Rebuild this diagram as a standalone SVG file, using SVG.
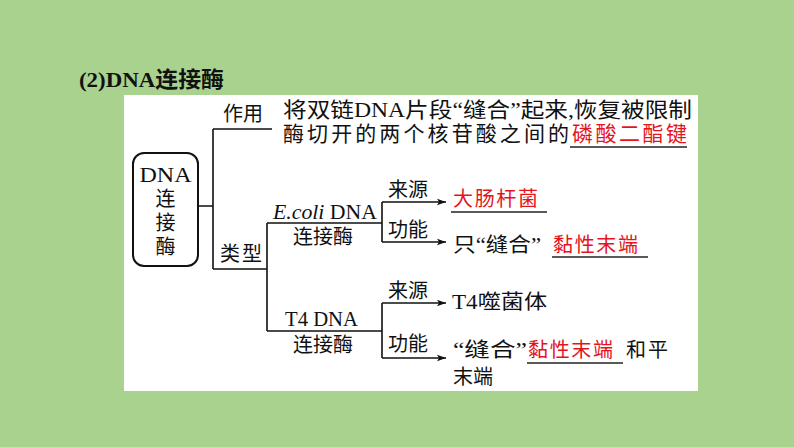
<svg xmlns="http://www.w3.org/2000/svg" width="794" height="447" viewBox="0 0 794 447">
<style>
text{font-family:"Liberation Serif","Noto Sans CJK SC",serif;font-size:20px;fill:#111}
.red{fill:#e3141c}
.ln{stroke:#111;stroke-width:1.6;fill:none}
.ul{stroke:#222;stroke-width:1.6}
.title{font-size:22px;font-weight:bold}
.desc{font-size:21px}
</style>
<defs>
<marker id="arr" markerWidth="10" markerHeight="8" refX="9" refY="4" orient="auto" markerUnits="userSpaceOnUse">
<path d="M0,0.8 L9,4 L0,7.2 L2,4 Z" fill="#111"/>
</marker>
</defs>
<rect width="794" height="447" fill="#a9d28f"/>
<g id="title"><text class="title" x="79" y="87" textLength="145" lengthAdjust="spacingAndGlyphs">(2)DNA连接酶</text></g>
<rect id="panel" x="124" y="95" width="574" height="296" fill="#fff"/>
<g id="connectors">
<path class="ln" d="M198 206H213M213 129V269M213 129H272M213 269H267M267 223V331M267 223H382M267 331H382M382 202V242M382 303V358"/>
<path class="ln" d="M382 202H446" marker-end="url(#arr)"/>
<path class="ln" d="M382 242H446" marker-end="url(#arr)"/>
<path class="ln" d="M382 303H446" marker-end="url(#arr)"/>
<path class="ln" d="M382 358H446" marker-end="url(#arr)"/>
</g>
<g id="root">
<rect x="133" y="153" width="65" height="113" rx="11" fill="#fff" stroke="#111" stroke-width="2"/>
<text x="165.5" y="182" text-anchor="middle" font-size="23" textLength="52" lengthAdjust="spacingAndGlyphs">DNA</text>
<text x="165.5" y="206" text-anchor="middle" font-size="21">连</text>
<text x="165.5" y="230" text-anchor="middle" font-size="21">接</text>
<text x="165.5" y="254" text-anchor="middle" font-size="21">酶</text>
</g>
<g id="zuoyong">
<text x="223" y="121" textLength="40">作用</text>
</g>
<g id="zuoyong-desc">
<text class="desc" x="283" y="117" textLength="409" lengthAdjust="spacingAndGlyphs">将双链DNA片段“缝合”起来,恢复被限制</text>
<text class="desc" x="283" y="141" textLength="286">酶切开的两个核苷酸之间的</text>
<text class="desc red" x="572" y="141" textLength="115">磷酸二酯键</text>
<line class="ul" x1="570" y1="147" x2="687" y2="147"/>
</g>
<g id="leixing"><text x="220" y="261" textLength="42">类型</text></g>
<g id="ecoli">
<text x="273" y="219" font-size="21" textLength="104" lengthAdjust="spacingAndGlyphs"><tspan font-style="italic">E.coli</tspan> DNA</text>
<text x="293" y="244" textLength="60">连接酶</text>
</g>
<g id="t4">
<text x="285" y="326" font-size="21" textLength="73" lengthAdjust="spacingAndGlyphs">T4 DNA</text>
<text x="293" y="352" textLength="60">连接酶</text>
</g>
<g id="ecoli-source">
<text x="388" y="197" textLength="40">来源</text>
<text class="red" x="453" y="206" textLength="85">大肠杆菌</text>
<line class="ul" x1="451" y1="212" x2="547" y2="212"/>
</g>
<g id="ecoli-function">
<text x="388" y="237" textLength="40">功能</text>
<text x="453" y="252" textLength="88" lengthAdjust="spacingAndGlyphs">只“缝合”</text>
<text class="red" x="553" y="252" textLength="85">黏性末端</text>
<line class="ul" x1="552" y1="257" x2="648" y2="257"/>
</g>
<g id="t4-source">
<text x="388" y="298" textLength="40">来源</text>
<text x="452" y="309" textLength="95" lengthAdjust="spacingAndGlyphs">T4噬菌体</text>
</g>
<g id="t4-function">
<text x="388" y="351" textLength="40">功能</text>
<text x="453" y="357" textLength="74" lengthAdjust="spacingAndGlyphs">“缝合”</text>
<text class="red" x="528" y="357" textLength="85">黏性末端</text>
<line class="ul" x1="527" y1="363" x2="623" y2="363"/>
<text x="626" y="357" textLength="42">和平</text>
<text x="453" y="384" textLength="40">末端</text>
</g>
</svg>
